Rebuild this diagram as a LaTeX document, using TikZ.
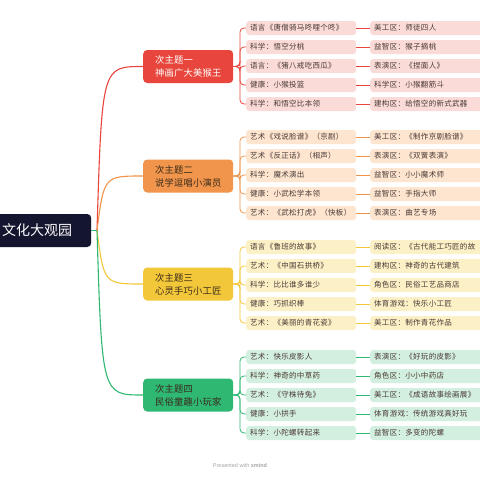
\documentclass[tikz,border=0pt]{standalone}
\usepackage{fontspec}
\setmainfont{Noto Sans CJK SC}
\setsansfont{Liberation Sans}
\newfontfamily\childfont[LetterSpace=4]{Noto Sans CJK SC}
\newfontfamily\subfont[LetterSpace=2]{Noto Sans CJK SC}
\definecolor{rootc}{HTML}{14152E}
\definecolor{c1}{HTML}{E8453C}\definecolor{t1}{HTML}{FADBD8}
\definecolor{c2}{HTML}{F0954B}\definecolor{t2}{HTML}{FDE5D0}
\definecolor{c3}{HTML}{F3C73A}\definecolor{t3}{HTML}{FCF0C6}
\definecolor{c4}{HTML}{2EB872}\definecolor{t4}{HTML}{D3EFDF}
\definecolor{ctext}{HTML}{4A3A36}
\definecolor{stext}{HTML}{3A2A1A}
\tikzset{
  rootbox/.style={draw=none,fill=rootc,text=white,rounded corners=4pt,anchor=west,
    minimum height=33pt,inner xsep=0pt,font=\fontsize{14}{16}\selectfont},
  subbox/.style={rounded corners=4pt,anchor=west,minimum height=33pt,inner xsep=12pt,
    text width=66pt,align=left,font=\subfont\fontsize{9.3}{13}\selectfont},
  lbox/.style={rounded corners=3pt,anchor=west,minimum height=14pt,inner ysep=0pt,
    inner xsep=4pt,text width=102pt,align=left,text=ctext,font=\childfont\fontsize{7.5}{9}\selectfont},
  rbox/.style={lbox,text width=108pt},
  mainline/.style={line width=1.1pt},
  brline/.style={line width=0.8pt,rounded corners=4pt},
}
\begin{document}
\begin{tikzpicture}[x=1pt,y=-1pt]
\useasboundingbox (0,0) rectangle (480,480);
\fill[white] (0,0) rectangle (480,480);

\node[rootbox] (root) at (-30,230.5) {\hspace*{32pt}文化大观园\hspace*{19pt}};
\coordinate (hub) at (97,230.5);

\node[subbox,fill=c1,text=white] (s1) at (143,66.5) {次主题一\\神画广大美猴王};
\node[subbox,fill=c2,text=stext] (s2) at (143,176) {次主题二\\说学逗唱小演员};
\node[subbox,fill=c3,text=stext] (s3) at (143,284) {次主题三\\心灵手巧小工匠};
\node[subbox,fill=c4,text=stext] (s4) at (143,395) {次主题四\\民俗童趣小玩家};

\draw[mainline,c4] (root.east) -- (hub);
\draw[mainline,c1] (hub) .. controls (102,66.5) .. (s1.west);
\draw[mainline,c2] (hub) .. controls (104,176) .. (s2.west);
\draw[mainline,c3] (hub) .. controls (104,284) .. (s3.west);
\draw[mainline,c4] (hub) .. controls (102,395) .. (s4.west);

\foreach \i/\y/\a/\b in {
  1/28/语言《唐僧骑马咚哩个咚》/美工区：师徒四人,
  2/47/科学：悟空分桃/益智区：猴子摘桃,
  3/66/语言：《猪八戒吃西瓜》/表演区：《捏面人》,
  4/85/健康：小猴投篮/科学区：小猴翻筋斗,
  5/104/科学：和悟空比本领/建构区：给悟空的新式武器}{
  \node[lbox,fill=t1] (g1l\i) at (246,\y) {\mbox{\a}};
  \node[rbox,fill=t1] (g1r\i) at (370,\y) {\mbox{\b}};
  \draw[brline,c1] (s1.east) -- (240,66.5) |- (g1l\i.west);
  \draw[brline,c1] (g1l\i.east) -- (g1r\i.west);
}

\foreach \i/\y/\a/\b in {
  1/137/艺术《戏说脸谱》（京剧）/美工区：《制作京剧脸谱》,
  2/156/艺术《反正话》（相声）/表演区：《双簧表演》,
  3/175/科学：魔术演出/益智区：小小魔术师,
  4/194/健康：小武松学本领/益智区：手指大师,
  5/213/艺术：《武松打虎》（快板）/表演区：曲艺专场}{
  \node[lbox,fill=t2] (g2l\i) at (246,\y) {\mbox{\a}};
  \node[rbox,fill=t2] (g2r\i) at (370,\y) {\mbox{\b}};
  \draw[brline,c2] (s2.east) -- (240,176) |- (g2l\i.west);
  \draw[brline,c2] (g2l\i.east) -- (g2r\i.west);
}

\foreach \i/\y/\a/\b in {
  1/247/语言《鲁班的故事》/阅读区：《古代能工巧匠的故,
  2/266/艺术：《中国石拱桥》/建构区：神奇的古代建筑,
  3/285/科学：比比谁多谁少/角色区：民俗工艺品商店,
  4/304/健康：巧抓织棒/体育游戏：快乐小工匠,
  5/323/艺术：《美丽的青花瓷》/美工区：制作青花作品}{
  \node[lbox,fill=t3] (g3l\i) at (246,\y) {\mbox{\a}};
  \node[rbox,fill=t3] (g3r\i) at (370,\y) {\mbox{\b}};
  \draw[brline,c3] (s3.east) -- (240,284) |- (g3l\i.west);
  \draw[brline,c3] (g3l\i.east) -- (g3r\i.west);
}

\foreach \i/\y/\a/\b in {
  1/357/艺术：快乐皮影人/表演区：《好玩的皮影》,
  2/376/科学：神奇的中草药/角色区：小小中药店,
  3/395/艺术：《守株待兔》/美工区：《成语故事绘画展》,
  4/414/健康：小拱手/体育游戏：传统游戏真好玩,
  5/433/科学：小陀螺转起来/益智区：多变的陀螺}{
  \node[lbox,fill=t4] (g4l\i) at (246,\y) {\mbox{\a}};
  \node[rbox,fill=t4] (g4r\i) at (370,\y) {\mbox{\b}};
  \draw[brline,c4] (s4.east) -- (240,395) |- (g4l\i.west);
  \draw[brline,c4] (g4l\i.east) -- (g4r\i.west);
}

\node[font=\sffamily\fontsize{5.5}{6}\selectfont,text=gray!70] (foot) at (240,466) {Presented with \textbf{xmind}};
\end{tikzpicture}
\end{document}
